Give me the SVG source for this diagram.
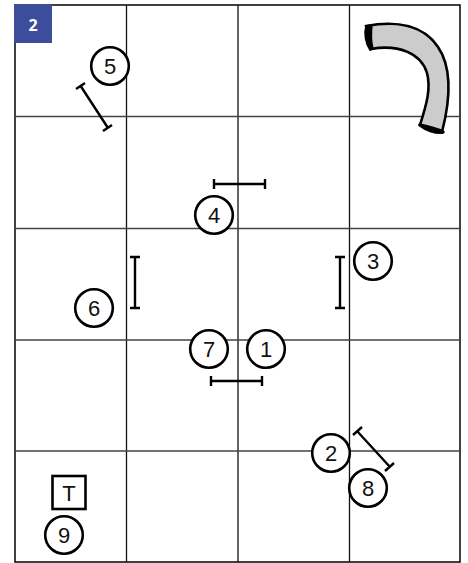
<svg xmlns="http://www.w3.org/2000/svg" width="468" height="563" viewBox="0 0 468 563">
<style>
.g{stroke:#111;fill:none;stroke-width:1.3}
.h{stroke:#444;fill:none;stroke-width:1.3}
.b{stroke:#000;fill:none;stroke-width:2.4}
.c{fill:#fff;stroke:#000;stroke-width:2.6}
text{font-family:"Liberation Sans",Arial,sans-serif;font-size:22px;fill:#111;text-anchor:middle}
</style>
<rect width="468" height="563" fill="#fff"/>
<g id="grid">
<rect x="15" y="5" width="445" height="557" fill="none" stroke="#111" stroke-width="1.6"/>
<path class="g" d="M126.500 5V562M238 5V562M349.500 5V562"/>
<path class="h" d="M15 116.500H460M15 228.500H460M15 340H460M15 451H460"/>
</g>
<g id="badge"><rect x="14" y="4" width="38" height="39" fill="#3b4d9b"/><text x="33" y="31" style="font-size:16px;font-weight:bold;fill:#fff;font-family:'Open Sans',sans-serif">2</text></g>
<g id="tunnel">
<path d="M366 26C398 20 424 26 438 47C451 66 451 97 442 132L420 125C427 103 431 88 427 73C421 53 398 44 371 49Z" fill="#ccc" stroke="#000" stroke-width="2.600"/>
<path d="M366 26C364 33 365 43 370 50L373 49C371 41 371 33 372 25Z" fill="#000" stroke="#000" stroke-width="1.500"/>
<path d="M420 125C426 130 436 133 443 132C436 129 427 127 420 125Z" fill="#000" stroke="#000" stroke-width="3.500" stroke-linejoin="round"/>
</g>
<g id="jump-a" class="b"><path d="M80 85L108 128M76 89L85 83M103 131L112 125"/></g>
<g id="jump-b" class="b"><path d="M214 184H265M214 179V189M265 179V189"/></g>
<g id="jump-c" class="b"><path d="M135 257V308M130 257H140M130 308H140"/></g>
<g id="jump-d" class="b"><path d="M340 257V308M335 257H345M335 308H345"/></g>
<g id="jump-e" class="b"><path d="M211 381H262M211 376V386M262 376V386"/></g>
<g id="jump-f" class="b"><path d="M357 431L390 467M353 435L362 427M385 471L394 463"/></g>
<g id="n5"><circle class="c" cx="110" cy="66" r="18.800"/><text x="110" y="73.500">5</text></g>
<g id="n4"><circle class="c" cx="214" cy="215" r="18.800"/><text x="214" y="222.500">4</text></g>
<g id="n3"><circle class="c" cx="373" cy="261" r="18.800"/><text x="373" y="268.500">3</text></g>
<g id="n6"><circle class="c" cx="94" cy="308" r="18.800"/><text x="94" y="315.500">6</text></g>
<g id="n7"><circle class="c" cx="209" cy="349" r="18.800"/><text x="209" y="356.500">7</text></g>
<g id="n1"><circle class="c" cx="266" cy="349" r="18.800"/><text x="266" y="356.500">1</text></g>
<g id="n2"><circle class="c" cx="331" cy="453" r="18.800"/><text x="331" y="460.500">2</text></g>
<g id="n8"><circle class="c" cx="368" cy="488" r="18.800"/><text x="368" y="495.500">8</text></g>
<g id="n9"><circle class="c" cx="64" cy="535" r="18.800"/><text x="64" y="542.500">9</text></g>
<g id="t"><rect x="52.500" y="476" width="33" height="33" fill="#fff" stroke="#000" stroke-width="2.600"/><text x="69" y="500.500">T</text></g>
</svg>
